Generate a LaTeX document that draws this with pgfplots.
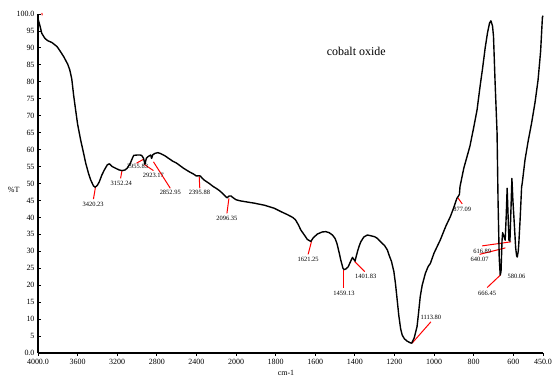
\documentclass[border=0pt]{standalone}
\usepackage{fontspec}
\setmainfont{Liberation Serif}
\usepackage{pgfplots}
\pgfplotsset{compat=1.18}
\newcommand{\lbl}{\fontsize{6.5}{7}\selectfont}
\begin{document}
\begin{tikzpicture}
\useasboundingbox (-38bp,-27bp) rectangle (515bp,353bp);
\begin{axis}[
  scale only axis, width=505bp, height=339bp,
  x coord trafo/.code={\pgfmathparse{#1>2000 ? 2000+(#1-2000)/2 : #1}},
  x coord inv trafo/.code={\pgfmathparse{#1>2000 ? 2000+(#1-2000)*2 : #1}},
  x dir=reverse,
  xmin=450, xmax=4000, ymin=0, ymax=100,
  axis x line*=bottom, axis y line*=left,
  axis line style={-, line width=1.1pt},
  xtick={450,600,800,1000,1200,1400,1600,1800,2000,2400,2800,3200,3600,4000},
  xticklabels={450.0,600,800,1000,1200,1400,1600,1800,2000,2400,2800,3200,3600,4000.0},
  ytick={0,5,...,100},
  yticklabels={0.0,5,10,15,20,25,30,35,40,45,50,55,60,65,70,75,80,85,90,95,100.0},
  /pgf/number format/assume math mode=true,
  tick label style={font=\fontsize{8}{9}\selectfont},
  major tick length=3bp,
  xtick align=outside, ytick align=inside,
  tick style={black, line width=0.8pt},
  clip=false,
]
% peak annotation lines
\addplot[red, line width=1pt] coordinates {(3960,100.3)(3958,99.6)};
\addplot[red, line width=1pt] coordinates {(3420,48.9)(3440,45.4)};
\addplot[red, line width=1pt] coordinates {(3152,53.8)(3166,51.5)};
\addplot[red, line width=1pt] coordinates {(2937,57.1)(3005,56.0)};
\addplot[red, line width=1pt] coordinates {(2926,55.6)(2834,53.8)};
\addplot[red, line width=1pt] coordinates {(2834,56.4)(2664,48.6)};
\addplot[red, line width=1pt] coordinates {(2372,52.1)(2366,48.6)};
\addplot[red, line width=1pt] coordinates {(2072,45.6)(2092,41.2)};
\addplot[red, line width=1pt] coordinates {(1619,32.9)(1636,29.1)};
\addplot[red, line width=1pt] coordinates {(1455,24.6)(1455,19.1)};
\addplot[red, line width=1pt] coordinates {(1401,27.0)(1350,24.0)};
\addplot[red, line width=1pt] coordinates {(1111,2.9)(1016,9.2)};
\addplot[red, line width=1pt] coordinates {(880,45.8)(858,44.0)};
\addplot[red, line width=1pt] coordinates {(665,23.0)(732,19.3)};
\addplot[red, line width=1pt] coordinates {(640,31.0)(770,29.1)};
\addplot[red, line width=1pt] coordinates {(611,32.8)(757,31.6)};
\node[font=\lbl] at (axis cs:3443,43.7) {3420.23};
\node[font=\lbl] at (axis cs:3159,49.9) {3152.24};
\node[font=\lbl] at (axis cs:2995,54.9) {2955.83};
\node[font=\lbl] at (axis cs:2834,52.3) {2923.17};
\node[font=\lbl] at (axis cs:2664,47.4) {2852.95};
\node[font=\lbl] at (axis cs:2369,47.5) {2395.88};
\node[font=\lbl] at (axis cs:2092,39.8) {2096.35};
\node[font=\lbl] at (axis cs:1636,27.7) {1621.25};
\node[font=\lbl] at (axis cs:1455,17.5) {1459.13};
\node[font=\lbl] at (axis cs:1345,22.6) {1401.83};
\node[font=\lbl] at (axis cs:1016,10.4) {1113.80};
\node[font=\lbl] at (axis cs:858,42.3) {877.09};
\node[font=\lbl] at (axis cs:732,17.7) {666.45};
\node[font=\lbl] at (axis cs:770,27.7) {640.07};
\node[font=\lbl] at (axis cs:757,30.0) {616.89};
\node[font=\lbl] at (axis cs:584,22.6) {580.06};
% spectrum
\addplot[black, line width=1.4pt, line join=round] coordinates {
(4000,98.6)(3980,96.5)(3962,94.3)(3930,92.8)(3900,92.1)(3860,91.6)(3808,90.4)
(3775,89.0)(3740,87.4)(3700,85.2)(3679,83.5)(3660,81.0)(3654,79.6)(3640,76.0)
(3620,71.7)(3600,67.5)(3569,62.8)(3540,59.0)(3518,56.0)(3490,53.0)(3467,51.0)
(3440,49.3)(3422,48.9)(3400,49.5)(3381,50.5)(3355,52.5)(3330,54.0)(3300,55.5)
(3279,55.8)(3250,55.0)(3210,54.4)(3180,54.0)(3152,53.8)(3120,54.0)(3100,54.5)
(3067,56.0)(3045,57.6)(3033,58.3)(3000,58.4)(2970,58.4)(2954,58.3)(2935,57.5)
(2920,55.7)(2905,57.5)(2885,58.0)(2862,58.4)(2853,57.4)(2840,58.5)(2817,58.9)
(2790,59.1)(2760,58.8)(2720,58.2)(2680,57.4)(2640,56.6)(2600,56.0)(2577,55.5)
(2530,54.5)(2475,53.5)(2430,52.8)(2400,52.2)(2380,52.3)(2360,52.2)(2340,51.5)
(2321,51.0)(2290,50.4)(2270,50.0)(2230,49.1)(2202,48.6)(2167,47.9)(2130,46.9)
(2100,46.0)(2090,45.8)(2070,46.3)(2050,46.3)(2038,46.0)(2020,45.6)(2000,45.2)
(1980,44.9)(1950,44.6)(1908,44.2)(1857,43.6)(1807,42.7)(1773,41.7)(1740,40.8)
(1714,40.0)(1700,39.3)(1685,37.8)(1673,36.3)(1655,34.8)(1640,33.5)(1622,32.9)
(1610,34.0)(1589,35.1)(1565,35.7)(1547,35.8)(1530,35.5)(1513,34.8)(1500,33.8)
(1491,32.4)(1480,29.8)(1471,27.4)(1460,25.0)(1454,24.6)(1445,24.8)(1434,25.4)
(1420,27.2)(1412,28.2)(1405,27.6)(1399,27.1)(1393,28.5)(1387,29.9)(1378,31.6)
(1370,32.8)(1355,34.2)(1337,34.8)(1320,34.6)(1300,34.3)(1286,33.8)(1270,32.8)
(1250,31.7)(1236,30.4)(1228,29.0)(1215,27.0)(1203,24.0)(1195,20.5)(1186,15.5)
(1178,11.0)(1169,7.2)(1161,5.3)(1150,4.2)(1136,3.5)(1120,3.0)(1113,2.9)
(1100,4.5)(1086,7.8)(1078,12.0)(1070,16.6)(1060,20.0)(1044,23.5)(1030,25.5)
(1019,26.4)(1000,29.5)(969,33.3)(940,37.5)(918,40.2)(900,43.0)(885,45.6)
(877,46.3)(872,46.8)(869,49.1)(850,54.5)(819,61.0)(800,66.5)(783,71.7)
(767,79.0)(755,84.0)(742,90.0)(730,94.5)(720,97.3)(713,98.0)(705,96.5)
(700,93.5)(692,80.0)(682,65.0)(677,45.0)(671,28.0)(666,23.0)(662,24.0)
(657,33.0)(654,35.5)(647,34.3)(641,33.3)(636,40.0)(631,48.6)(626,40.0)
(622,33.3)(617,33.0)(612,42.0)(607,51.5)(602,45.0)(595,38.2)(588,31.0)
(583,28.6)(580,28.3)(575,30.0)(572,32.4)(565,40.0)(558,49.0)(555,50.0)
(541,56.9)(525,62.5)(508,67.7)(490,74.0)(475,80.5)(462,89.0)(453,99.0)(450,99.5)
};
\node[font=\fontsize{12}{14}\selectfont] at (axis cs:1393,89.1) {cobalt oxide};
\node[font=\fontsize{8}{9}\selectfont] at (axis description cs:-0.048,0.481) {\%T};
\node[font=\fontsize{8}{9}\selectfont] at (axis description cs:0.491,-0.059) {cm-1};
\end{axis}
\end{tikzpicture}
\end{document}
